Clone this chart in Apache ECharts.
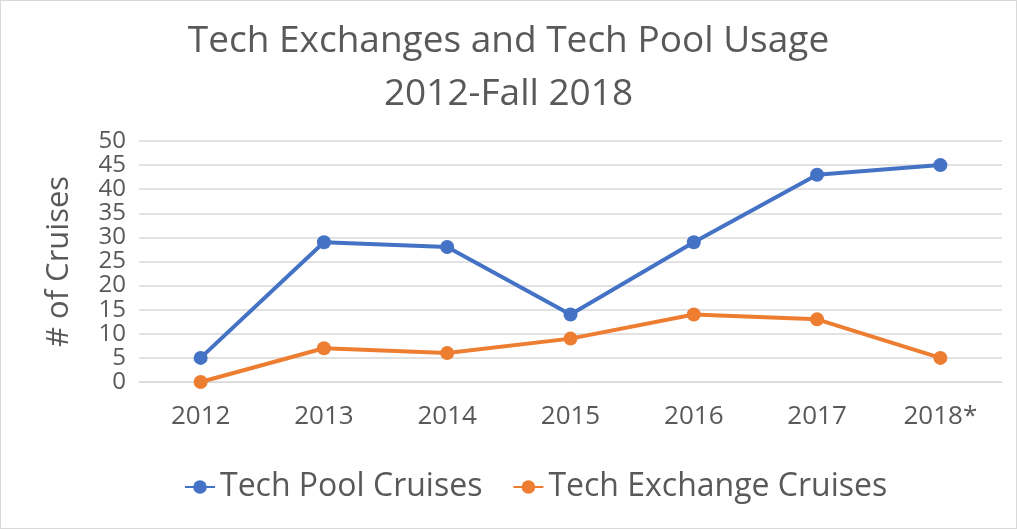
<!DOCTYPE html>
<html>
<head>
<meta charset="utf-8">
<script src="https://cdn.jsdelivr.net/npm/echarts@6/dist/echarts.min.js"></script>
<style>
    html, body { margin: 0; padding: 0; background: #fff; }
    #chart { width: 1017px; height: 529px; box-sizing: border-box; border: 1px solid #d9d9d9; }
</style>
</head>
<body>
<div id="chart"></div>
<script>
const years = ['2012', '2013', '2014', '2015', '2016', '2017', '2018*'];
const poolCruises = [5, 29, 28, 14, 29, 43, 45];
const exchangeCruises = [0, 7, 6, 9, 14, 13, 5];

const textColor = '#595959';
const font = 'Open Sans';

const chart = echarts.init(document.getElementById('chart'));
chart.setOption({
    animation: false,
    title: {
        text: 'Tech Exchanges and Tech Pool Usage\n2012-Fall 2018',
        left: 'center',
        top: 9,
        textStyle: {
            color: textColor,
            fontFamily: font,
            fontSize: 37,
            fontWeight: 'normal',
            lineHeight: 53,
        },
    },
    legend: {
        bottom: 20,
        left: 178,
        itemWidth: 30,
        itemHeight: 17,
        itemGap: 30,
        textStyle: { color: textColor, fontFamily: font, fontSize: 32 },
        data: ['Tech Pool Cruises', 'Tech Exchange Cruises'],
    },
    grid: { left: 138, right: 14, top: 140, bottom: 146 },
    xAxis: {
        type: 'category',
        data: years,
        axisLine: { lineStyle: { color: '#d9d9d9' } },
        axisTick: { show: false },
        axisLabel: { color: textColor, fontFamily: font, fontSize: 26, margin: 22 },
    },
    yAxis: {
        type: 'value',
        min: 0,
        max: 50,
        interval: 5,
        name: '# of Cruises',
        nameLocation: 'middle',
        nameGap: 64,
        nameTextStyle: { color: textColor, fontFamily: font, fontSize: 31 },
        axisLine: { show: false },
        axisTick: { show: false },
        splitLine: { lineStyle: { color: '#d9d9d9', width: 1.5 } },
        axisLabel: { color: textColor, fontFamily: font, fontSize: 24, margin: 13, lineHeight: 20 },
    },
    series: [
        {
            name: 'Tech Pool Cruises',
            type: 'line',
            data: poolCruises,
            symbol: 'circle',
            symbolSize: 14,
            itemStyle: { color: '#4472c4' },
            lineStyle: { width: 4, color: '#4472c4' },
        },
        {
            name: 'Tech Exchange Cruises',
            type: 'line',
            data: exchangeCruises,
            symbol: 'circle',
            symbolSize: 14,
            itemStyle: { color: '#ed7d31' },
            lineStyle: { width: 4, color: '#ed7d31' },
        },
    ],
});
</script>
</body>
</html>
